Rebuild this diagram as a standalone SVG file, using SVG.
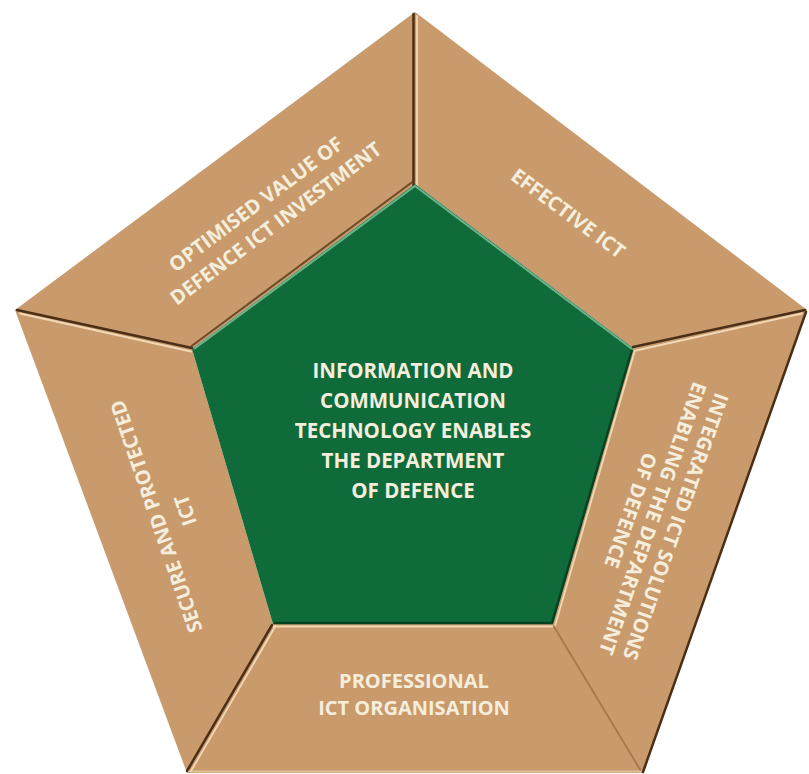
<svg xmlns="http://www.w3.org/2000/svg" width="809" height="774" viewBox="0 0 809 774">
<style>
.panel{fill:#c99a6b}
.core{fill:#0f6b3a}
.lbl{font-family:"Open Sans","Liberation Sans",sans-serif;font-weight:700;font-size:20px;fill:#f5eedd;text-anchor:middle}
.ctr{font-size:20.5px}
.dark{stroke:#4a2e16;stroke-width:2.5;fill:none;stroke-linecap:round}
.lite{stroke:#f1d8b6;stroke-width:1.8;fill:none;stroke-linecap:round}
.soft{stroke:#a8794f;stroke-width:2;fill:none}
</style>
<rect width="809" height="774" fill="#ffffff"/>
<g id="panel-optimised">
<polygon class="panel" points="15,310 415,12 415,184 192,349"/>
<text class="lbl" transform="translate(260 210) rotate(-36.7)">OPTIMISED VALUE OF</text>
<text class="lbl" transform="translate(280 229) rotate(-36.7)">DEFENCE ICT INVESTMENT</text>
</g>
<g id="panel-effective">
<polygon class="panel" points="415,12 807,310 633,348 415,184"/>
<text class="lbl" transform="translate(564 219) rotate(36.5)">EFFECTIVE ICT</text>
</g>
<g id="panel-integrated">
<polygon class="panel" points="807,310 643,773 553,624 633,348"/>
<text class="lbl" transform="translate(669 524) rotate(109.3)">INTEGRATED ICT SOLUTIONS</text>
<text class="lbl" transform="translate(646 516) rotate(109.3)">ENABLING THE DEPARTMENT</text>
<text class="lbl" transform="translate(624 508) rotate(109.3)">OF DEFENCE</text>
</g>
<g id="panel-professional">
<polygon class="panel" points="643,773 187,773 273,624 553,624"/>
<text class="lbl" x="414" y="688">PROFESSIONAL</text>
<text class="lbl" x="414" y="715">ICT ORGANISATION</text>
</g>
<g id="panel-secure">
<polygon class="panel" points="187,773 15,310 192,349 273,624"/>
<text class="lbl" transform="translate(163 514) rotate(-109)">SECURE AND PROTECTED</text>
<text class="lbl" transform="translate(192 508) rotate(-109)">ICT</text>
</g>
<g id="seams">
<line class="dark" x1="413.5" y1="14" x2="413.5" y2="185"/>
<line class="lite" x1="417" y1="16" x2="417" y2="186"/>
<line class="dark" x1="17" y1="310" x2="192" y2="348"/>
<line class="lite" x1="20" y1="313.5" x2="191" y2="351.5"/>
<line class="dark" x1="805" y1="310" x2="633" y2="347"/>
<line class="lite" x1="802" y1="313.5" x2="636" y2="350.5"/>
<line class="dark" x1="187" y1="771" x2="272" y2="625"/>
<line class="lite" x1="191" y1="771" x2="275.5" y2="626"/>
<line class="soft" x1="641" y1="771" x2="553" y2="625"/>
<line class="dark" x1="806" y1="312" x2="643" y2="772"/>
<line class="lite" x1="189" y1="771.5" x2="641" y2="771.5" stroke-width="1.2" opacity="0.6"/>
<line x1="191" y1="346.5" x2="413" y2="181.5" stroke="#6e4a28" stroke-width="2"/>
</g>
<g id="core">
<polygon class="core" points="415,184 633,348 553,624 273,624 192,349"/>
<polyline points="194,349 415,186 632,349" fill="none" stroke="#6fb38a" stroke-width="2"/>
<polyline points="632,350 552,623 274,623" fill="none" stroke="#064222" stroke-width="2.5"/>
<line x1="555" y1="626" x2="635" y2="350" stroke="#f1d8b6" stroke-width="1.8"/>
<line x1="273" y1="626.5" x2="553" y2="626.5" stroke="#f1d8b6" stroke-width="1.8"/>
<text class="lbl ctr" x="413" y="378">INFORMATION AND</text>
<text class="lbl ctr" x="413" y="408">COMMUNICATION</text>
<text class="lbl ctr" x="413" y="438">TECHNOLOGY ENABLES</text>
<text class="lbl ctr" x="413" y="468">THE DEPARTMENT</text>
<text class="lbl ctr" x="413" y="498">OF DEFENCE</text>
</g>
</svg>
